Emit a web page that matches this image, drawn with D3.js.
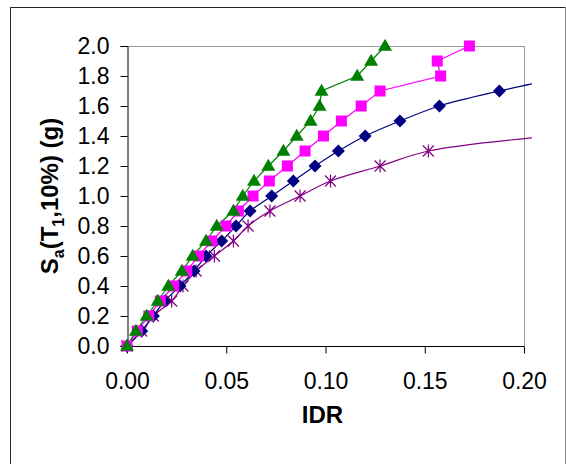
<!DOCTYPE html>
<html>
<head>
<meta charset="utf-8">
<script src="https://cdn.jsdelivr.net/npm/d3@7"></script>
<style>
  body { margin: 0; background: #fff; }
  svg { display: block; }
  text { font-family: "Liberation Sans", Arial, sans-serif; }
</style>
</head>
<body>
<svg id="chart" width="566" height="464"></svg>
<script>
// ---- Data ----
const xTicks = [0.00, 0.05, 0.10, 0.15, 0.20];
const yTicks = [0.0, 0.2, 0.4, 0.6, 0.8, 1.0, 1.2, 1.4, 1.6, 1.8, 2.0];

// Green triangles
const greenIDR = [0, 0.0045, 0.0099, 0.0155, 0.0208, 0.0276, 0.0331, 0.0398, 0.0452, 0.0536, 0.0583, 0.064, 0.0712, 0.0788, 0.0855, 0.0925, 0.097, 0.098, 0.116, 0.123, 0.130];
const greenSa  = [0, 0.1, 0.2, 0.3, 0.4, 0.5, 0.6, 0.7, 0.8, 0.9, 1.0, 1.1, 1.2, 1.3, 1.4, 1.5, 1.6, 1.7, 1.8, 1.9, 2.0];

// Magenta squares
const magentaIDR = [0, 0.0052, 0.0110, 0.0168, 0.0235, 0.0301, 0.036, 0.0427, 0.0499, 0.0561, 0.0635, 0.0717, 0.0808, 0.0897, 0.099, 0.108, 0.118, 0.1275, 0.158, 0.1563, 0.1725];
const magentaSa  = [0, 0.1, 0.2, 0.3, 0.4, 0.5, 0.6, 0.7, 0.8, 0.9, 1.0, 1.1, 1.2, 1.3, 1.4, 1.5, 1.6, 1.7, 1.8, 1.9, 2.0];

// Navy diamonds (smoothed line)
const blueIDR = [0, 0.0074, 0.0133, 0.019, 0.0267, 0.0338, 0.0398, 0.0477, 0.0549, 0.062, 0.0729, 0.0838, 0.0947, 0.1065, 0.120, 0.1375, 0.1574, 0.1876];
const blueSa  = [0, 0.1, 0.2, 0.3, 0.4, 0.5, 0.6, 0.7, 0.8, 0.9, 1.0, 1.1, 1.2, 1.3, 1.4, 1.5, 1.6, 1.7];
const blueTailIDR = [0.204];
const blueTailSa  = [1.747];

// Purple asterisks (smoothed line)
const purpleIDR = [0, 0.0074, 0.0133, 0.0225, 0.0282, 0.0348, 0.044, 0.0536, 0.061, 0.072, 0.0872, 0.1025, 0.1275, 0.1518];
const purpleSa  = [0, 0.1, 0.2, 0.3, 0.4, 0.5, 0.6, 0.7, 0.8, 0.9, 1.0, 1.1, 1.2, 1.3];
const purpleTailIDR = [0.204];
const purpleTailSa  = [1.387];

// ---- Layout ----
const svg = d3.select("#chart");
const L = 127, R = 524, T = 46, B = 346;
const x = d3.scaleLinear().domain([0, 0.20]).range([L, R]);
const y = d3.scaleLinear().domain([0, 2.0]).range([B, T]);
const fontSize = 23;

// Outer frame
svg.append("line").attr("x1", 10.5).attr("y1", 7.5).attr("x2", 565.5).attr("y2", 7.5).attr("stroke", "#222").attr("stroke-width", 1);
svg.append("line").attr("x1", 10.5).attr("y1", 7.5).attr("x2", 10.5).attr("y2", 470).attr("stroke", "#222").attr("stroke-width", 1);
svg.append("line").attr("x1", 565.5).attr("y1", 7.5).attr("x2", 565.5).attr("y2", 470).attr("stroke", "#888").attr("stroke-width", 1);

// Plot frame (top/right gray)
svg.append("line").attr("x1", L).attr("y1", T + 0.5).attr("x2", R + 0.5).attr("y2", T + 0.5).attr("stroke", "#999");
svg.append("line").attr("x1", R + 0.5).attr("y1", T).attr("x2", R + 0.5).attr("y2", B).attr("stroke", "#999");

// Axes
const yAxis = d3.axisLeft(y).tickValues(yTicks).tickFormat(d3.format(".1f")).tickSize(7).tickPadding(11);
const gy = svg.append("g").attr("transform", `translate(${L + 0.5},0)`).call(yAxis);
const xAxis = d3.axisBottom(x).tickValues(xTicks).tickFormat(d3.format(".2f")).tickSize(7).tickPadding(19);
const gx = svg.append("g").attr("transform", `translate(0,${B + 0.5})`).call(xAxis);
[gx, gy].forEach(g => {
  g.select(".domain").attr("stroke", "#000");
  g.selectAll(".tick line").attr("stroke", "#000");
  g.selectAll("text").attr("font-size", fontSize).attr("fill", "#000")
    .style("font-family", '"Liberation Sans", Arial, sans-serif');
});
gx.select(".domain").attr("d", `M${L - 7},0H${R}`);

// Axis titles
svg.append("text").attr("x", x(0.1) - 3).attr("y", 423).attr("text-anchor", "middle")
  .attr("font-size", fontSize + 1).attr("font-weight", "bold").text("IDR");

const yl = svg.append("text").attr("transform", `translate(58,${(T + B) / 2}) rotate(-90)`)
  .attr("text-anchor", "middle").attr("font-size", fontSize + 1).attr("font-weight", "bold");
yl.append("tspan").text("S");
yl.append("tspan").attr("font-size", 16).attr("dy", 6).text("a");
yl.append("tspan").attr("dy", -6).text("(T");
yl.append("tspan").attr("font-size", 16).attr("dy", 6).text("1");
yl.append("tspan").attr("dy", -6).text(",10%) (g)");

// Lines
const zip = (a, b) => a.map((v, i) => [v, b[i]]);
const green = zip(greenIDR, greenSa);
const magenta = zip(magentaIDR, magentaSa);
const blue = zip(blueIDR, blueSa);
const purple = zip(purpleIDR, purpleSa);
const blueLine = blue.concat(zip(blueTailIDR, blueTailSa));
const purpleLine = purple.concat(zip(purpleTailIDR, purpleTailSa));

const straight = d3.line().x(d => x(d[0])).y(d => y(d[1]));
const smooth = d3.line().x(d => x(d[0])).y(d => y(d[1])).curve(d3.curveCatmullRom.alpha(0.5));

svg.append("path").attr("d", smooth(purpleLine)).attr("fill", "none").attr("stroke", "#800080").attr("stroke-width", 1.2);
svg.append("path").attr("d", smooth(blueLine)).attr("fill", "none").attr("stroke", "#000080").attr("stroke-width", 1.2);
svg.append("path").attr("d", straight(magenta)).attr("fill", "none").attr("stroke", "#FF00FF").attr("stroke-width", 1.2);
svg.append("path").attr("d", straight(green)).attr("fill", "none").attr("stroke", "#008000").attr("stroke-width", 1.2);

// Markers
const ast = 5.5;
svg.append("g").selectAll("path").data(purple).join("path")
  .attr("transform", d => `translate(${x(d[0])},${y(d[1])})`)
  .attr("d", `M${-ast},${-ast}L${ast},${ast}M${-ast},${ast}L${ast},${-ast}M0,${-ast - 1}L0,${ast + 1}`)
  .attr("stroke", "#800080").attr("stroke-width", 1.2).attr("fill", "none");

const dr = 6.5;
svg.append("g").selectAll("path").data(blue).join("path")
  .attr("transform", d => `translate(${x(d[0])},${y(d[1])})`)
  .attr("d", `M0,${-dr}L${dr},0L0,${dr}L${-dr},0Z`)
  .attr("fill", "#000080");

const sq = 5.5;
svg.append("g").selectAll("rect").data(magenta).join("rect")
  .attr("x", d => x(d[0]) - sq).attr("y", d => y(d[1]) - sq)
  .attr("width", sq * 2).attr("height", sq * 2).attr("fill", "#FF00FF");

const tw = 7, th = 12;
svg.append("g").selectAll("path").data(green).join("path")
  .attr("transform", d => `translate(${x(d[0])},${y(d[1])})`)
  .attr("d", `M0,${-th * 0.6}L${tw},${th * 0.4}L${-tw},${th * 0.4}Z`)
  .attr("fill", "#008000");
</script>
</body>
</html>
